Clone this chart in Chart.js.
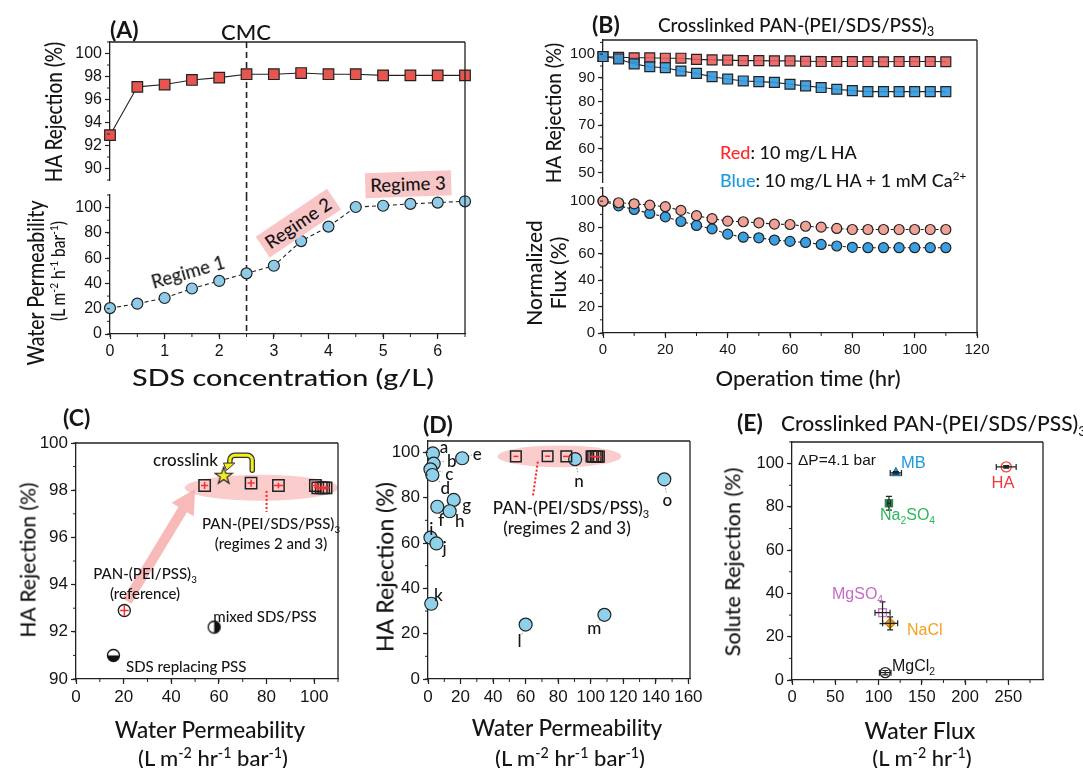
<!DOCTYPE html>
<html>
<head>
<meta charset="utf-8">
<script src="https://cdn.jsdelivr.net/npm/chart.js@4.4.1/dist/chart.umd.min.js"></script>
<style>
  body { margin: 0; background: #fff; }
  #wrap { position: relative; width: 1083px; height: 768px; overflow: hidden; font-family: Lato, 'Open Sans', sans-serif; color: #151515; }
  canvas { position: absolute; left: 0; top: 0; }
  .lbl { position: absolute; white-space: nowrap; line-height: 1; z-index: 5; font-weight: 500; }
  .arial { font-family: 'Liberation Sans', Arial, sans-serif; font-weight: 400; }
  sub, sup { font-size: 0.65em; line-height: 0; }
</style>
</head>
<body>
<div id="wrap"></div>
<script>
//-----------------------------------------------------
// Data
//-----------------------------------------------------

// (A) SDS concentration sweep
const sdsConc = [0, 0.5, 1, 1.5, 2, 2.5, 3, 3.5, 4, 4.5, 5, 5.5, 6, 6.5];
const haRejA = [92.9, 97.1, 97.3, 97.7, 97.9, 98.2, 98.2, 98.3, 98.2, 98.2, 98.1, 98.1, 98.1, 98.1];
const permA = [20.5, 24, 28.5, 36, 42, 48, 54, 73.5, 85, 100.5, 101.5, 103, 104, 105];
const cmcConc = 2.5;
const concTicks = [0, 1, 2, 3, 4, 5, 6];
const rejTicksA = [90, 92, 94, 96, 98, 100];
const permTicksA = [0, 20, 40, 60, 80, 100];

// (B) long term filtration
const timeB = [0, 5, 10, 15, 20, 25, 30, 35, 40, 45, 50, 55, 60, 65, 70, 75, 80, 85, 90, 95, 100, 105, 110];
const rejRedB = [99, 98.7, 98.5, 98.5, 98.3, 98.3, 97.8, 97.6, 97.5, 97.3, 97.3, 97.2, 97.2, 97, 96.9, 96.9, 96.9, 96.9, 96.8, 96.9, 96.9, 96.9, 96.8];
const rejBlueB = [99, 98, 95.9, 94.7, 94.3, 92.9, 91.9, 90.5, 89.5, 88.7, 88.4, 88.1, 87.3, 86.6, 85.9, 85.2, 84.6, 84.2, 84.2, 84.2, 84.2, 84.2, 84.2];
const fluxRedB = [100, 98.8, 98, 97, 95.8, 93, 89, 86.7, 84.9, 84.4, 83.6, 82.6, 82.3, 81, 80.3, 79.3, 78.5, 78.5, 78.5, 78.5, 78.5, 78.5, 78.5];
const fluxBlueB = [100, 96.5, 93.7, 90.7, 88.1, 84.6, 81.6, 79, 75, 72.7, 72.2, 70.5, 69.5, 68.7, 67.2, 66, 65, 64.7, 64.7, 64.7, 64.7, 64.7, 64.7];
const timeTicks = [0, 20, 40, 60, 80, 100, 120];
const rejTicksB = [50, 60, 70, 80, 90, 100];
const fluxTicksB = [0, 20, 40, 60, 80, 100];

// (C) regimes 2 and 3 = the SDS points from 3 g/L on
const regimePerm = permA.slice(6);
const regimeRej = haRejA.slice(6);
const regimePermErr = [1.5, 1.5, 2, 1.5, 1.5, 1.5, 1.5, 1.5];
const regimeRejErr = [0.15, 0.15, 0.12, 0.12, 0.1, 0.1, 0.1, 0.1];
const refPerm = [20.3], refRej = [92.9];
const xlinkPerm = [62], xlinkRej = [98.6];
const mixedPerm = [58], mixedRej = [92.2];
const sdsReplPerm = [15.7], sdsReplRej = [91.0];
const permTicksC = [0, 20, 40, 60, 80, 100];
const rejTicksC = [90, 92, 94, 96, 98, 100];

// (D) literature comparison
const litNames = ['a', 'b', 'c', 'd', 'e', 'f', 'g', 'h', 'i', 'j', 'k', 'l', 'm', 'n', 'o'];
const litPerm = [3, 3.5, 1.5, 2.7, 21, 5.7, 15.8, 13.3, 1.5, 5.2, 2, 60, 108.4, 90.4, 145.2];
const litRej = [99.5, 95, 92.5, 90, 97.4, 76, 79, 74, 62.4, 59.8, 33.2, 24, 28.3, 97, 88.1];
const permTicksD = [0, 20, 40, 60, 80, 100, 120, 140, 160];
const rejTicksD = [0, 20, 40, 60, 80, 100];

// (E) solute rejection
const soluteNames = ['HA', 'MB', 'Na2SO4', 'MgSO4', 'NaCl', 'MgCl2'];
const soluteFlux = [247.5, 120, 112, 104.6, 113.4, 107.7];
const soluteRej = [98.5, 95.7, 81.7, 31.1, 26.2, 3.4];
const soluteFluxErr = [11.5, 6.5, 2, 8.7, 8.7, 6.7];
const soluteRejErr = [0.6, 0.6, 3.2, 5, 3, 1];
const fluxTicksE = [0, 50, 100, 150, 200, 250];
const rejTicksE = [0, 20, 40, 60, 80, 100];

//-----------------------------------------------------
// Helpers
//-----------------------------------------------------
const wrap = document.getElementById('wrap');
const W = 1083, H = 768, YW = 48, XH = 30;
const INK = '#222';

function pts(xs, ys) { return xs.map((x, i) => ({ x, y: ys[i] })); }

function axis(min, max, ticks, size, extra) {
    return Object.assign({
        type: 'linear', min, max,
        afterBuildTicks: s => { s.ticks = ticks.map(v => ({ value: v })); },
        border: { color: INK, width: 1.3 },
        grid: { drawOnChartArea: false, color: INK, tickLength: 5, tickWidth: 1.2 },
        ticks: { color: '#151515', font: { family: "'Liberation Sans', Arial, sans-serif", size: size }, padding: 3, maxRotation: 0, autoSkip: false }
    }, extra || {});
}

const minorTicks = {
    id: 'minorTicks',
    afterDraw(chart, args, o) {
        const ctx = chart.ctx;
        ctx.save();
        ctx.strokeStyle = INK;
        ctx.lineWidth = 1;
        ['x', 'y'].forEach(id => {
            const step = o[id], s = chart.scales[id];
            if (!step || s.options.display === false) return;
            ctx.beginPath();
            const n0 = Math.ceil(s.min / step - 1e-9), n1 = Math.floor(s.max / step + 1e-9);
            for (let n = n0; n <= n1; n++) {
                const p = s.getPixelForValue(n * step);
                if (id === 'x') { ctx.moveTo(p, s.top); ctx.lineTo(p, s.top + 3); }
                else { ctx.moveTo(s.right, p); ctx.lineTo(s.right - 3, p); }
            }
            ctx.stroke();
        });
        ctx.restore();
    }
};

const frame = {
    id: 'frame',
    afterDraw(chart, args, o) {
        const { left, right, top, bottom } = chart.chartArea;
        const ctx = chart.ctx;
        ctx.save();
        ctx.strokeStyle = INK;
        ctx.lineWidth = 1.3;
        ctx.beginPath();
        if (o.top) { ctx.moveTo(left, top); ctx.lineTo(right, top); }
        if (o.right) { ctx.moveTo(right, top - (o.up || 0)); ctx.lineTo(right, bottom); }
        ctx.stroke();
        ctx.restore();
    }
};

const errorBars = {
    id: 'errorBars',
    afterDatasetsDraw(chart) {
        const ctx = chart.ctx, xs = chart.scales.x, ys = chart.scales.y;
        chart.data.datasets.forEach(ds => {
            if (!ds.errX && !ds.errY) return;
            ctx.save();
            ctx.strokeStyle = ds.errColor || INK;
            ctx.lineWidth = ds.errWidth || 1.2;
            const cap = ds.errCap === undefined ? 3 : ds.errCap;
            ds.data.forEach((p, i) => {
                const px = xs.getPixelForValue(p.x), py = ys.getPixelForValue(p.y);
                ctx.beginPath();
                if (ds.errX) {
                    const a = xs.getPixelForValue(p.x - ds.errX[i]), b = xs.getPixelForValue(p.x + ds.errX[i]);
                    ctx.moveTo(a, py); ctx.lineTo(b, py);
                    if (cap) { ctx.moveTo(a, py - cap); ctx.lineTo(a, py + cap); ctx.moveTo(b, py - cap); ctx.lineTo(b, py + cap); }
                }
                if (ds.errY) {
                    const a = ys.getPixelForValue(p.y - ds.errY[i]), b = ys.getPixelForValue(p.y + ds.errY[i]);
                    ctx.moveTo(px, a); ctx.lineTo(px, b);
                    if (cap) { ctx.moveTo(px - cap, a); ctx.lineTo(px + cap, a); ctx.moveTo(px - cap, b); ctx.lineTo(px + cap, b); }
                }
                ctx.stroke();
            });
            ctx.restore();
        });
    }
};

const vline = {
    id: 'vline',
    beforeDatasetsDraw(chart, args, o) {
        if (o.x === undefined) return;
        const ctx = chart.ctx, { top, bottom } = chart.chartArea;
        const x = chart.scales.x.getPixelForValue(o.x);
        ctx.save();
        ctx.strokeStyle = INK;
        ctx.lineWidth = 1.6;
        ctx.setLineDash([6, 4]);
        ctx.beginPath();
        ctx.moveTo(x, top);
        ctx.lineTo(x, bottom + (o.down || 0));
        ctx.stroke();
        ctx.restore();
    }
};

function ellipse(chart, cx, cy, rx, ry, color) {
    const xs = chart.scales.x, ys = chart.scales.y, ctx = chart.ctx;
    const x0 = xs.getPixelForValue(cx), y0 = ys.getPixelForValue(cy);
    ctx.save();
    ctx.fillStyle = color;
    ctx.beginPath();
    ctx.ellipse(x0, y0, Math.abs(xs.getPixelForValue(cx + rx) - x0), Math.abs(ys.getPixelForValue(cy + ry) - y0), 0, 0, 2 * Math.PI);
    ctx.fill();
    ctx.restore();
}

function dotted(chart, x1, y1, x2, y2, color, width) {
    const xs = chart.scales.x, ys = chart.scales.y, ctx = chart.ctx;
    ctx.save();
    ctx.strokeStyle = color;
    ctx.lineWidth = width;
    ctx.setLineDash([2, 2]);
    ctx.beginPath();
    ctx.moveTo(xs.getPixelForValue(x1), ys.getPixelForValue(y1));
    ctx.lineTo(xs.getPixelForValue(x2), ys.getPixelForValue(y2));
    ctx.stroke();
    ctx.restore();
}

function makeChart(area, xs, ys, datasets, pluginOpts, extra) {
    const cv = document.createElement('canvas');
    cv.width = W; cv.height = H;
    wrap.appendChild(cv);
    const xh = xs.display === false ? 0 : XH;
    xs.afterFit = s => { s.height = xh; };
    ys.afterFit = s => { s.width = YW; };
    return new Chart(cv, {
        type: 'scatter',
        data: { datasets },
        options: {
            responsive: false, animation: false, devicePixelRatio: 1, events: [],
            layout: { padding: { left: area.l - YW, top: area.t, right: W - area.r, bottom: H - area.b - xh } },
            scales: { x: xs, y: ys },
            plugins: Object.assign({ legend: { display: false }, tooltip: { enabled: false } }, pluginOpts)
        },
        plugins: [minorTicks, frame, vline, errorBars].concat(extra || [])
    });
}

// o: size, bold, color, bg, align, rot, sx (stretch along text), sy (stretch across text), cls
function txt(html, x, y, o) {
    o = o || {};
    const d = document.createElement('div');
    d.className = 'lbl' + (o.cls ? ' ' + o.cls : '');
    d.innerHTML = html;
    d.style.left = x + 'px';
    d.style.top = y + 'px';
    d.style.fontSize = (o.size || 16) + 'px';
    if (o.bold) d.style.fontWeight = 'bold';
    if (o.color) d.style.color = o.color;
    if (o.bg) { d.style.background = o.bg; d.style.padding = '3px 5px'; }
    const ax = o.align === 'left' ? '0' : o.align === 'right' ? '-100%' : '-50%';
    if (o.align === 'left') d.style.transformOrigin = '0 50%';
    if (o.align === 'right') d.style.transformOrigin = '100% 50%';
    d.style.transform = 'translate(' + ax + ', -50%)' + (o.rot ? ' rotate(' + o.rot + 'deg)' : '') +
        ' scale(' + (o.sx || 1) + ',' + (o.sy || 1) + ')';
    wrap.appendChild(d);
    return d;
}

function markerImg(size, draw) {
    const c = document.createElement('canvas');
    c.width = c.height = size;
    draw(c.getContext('2d'), size / 2);
    return c;
}
function halfCircle(a0, a1) {
    return markerImg(15, (g, c) => {
        g.beginPath(); g.arc(c, c, 6, 0, 2 * Math.PI); g.fillStyle = '#fff'; g.fill();
        g.beginPath(); g.moveTo(c, c); g.arc(c, c, 6, a0, a1); g.closePath(); g.fillStyle = '#111'; g.fill();
        g.beginPath(); g.arc(c, c, 6, 0, 2 * Math.PI); g.lineWidth = 1.3; g.strokeStyle = '#111'; g.stroke();
    });
}
const halfRight = halfCircle(-Math.PI / 2, Math.PI / 2);
const halfBottom = halfCircle(0, Math.PI);
const starImg = markerImg(20, (g, c) => {
    g.beginPath();
    for (let k = 0; k < 10; k++) {
        const r = k % 2 ? 3.6 : 9, a = -Math.PI / 2 + k * Math.PI / 5;
        g.lineTo(c + r * Math.cos(a), c + r * Math.sin(a));
    }
    g.closePath();
    g.fillStyle = '#f4e62a'; g.fill();
    g.lineWidth = 1.2; g.strokeStyle = '#222'; g.stroke();
});

//-----------------------------------------------------
// (A)
//-----------------------------------------------------
makeChart({ l: 110, t: 42, r: 465, b: 180 },
    axis(0, 6.5, [], 16, { display: false }),
    axis(89, 101, rejTicksA, 16),
    [{
        data: pts(sdsConc, haRejA), showLine: true, borderColor: INK, borderWidth: 1.1, clip: false,
        pointStyle: 'rect', pointRadius: 7.5, pointBackgroundColor: '#e6564f', pointBorderColor: INK, pointBorderWidth: 1.2
    }],
    { frame: { top: true, right: true }, minorTicks: { y: 1 }, vline: { x: cmcConc, down: 15 } });

makeChart({ l: 110, t: 195, r: 465, b: 334 },
    axis(0, 6.5, concTicks, 16),
    axis(0, 110, permTicksA, 16),
    [{
        data: pts(sdsConc, permA), showLine: true, borderColor: INK, borderWidth: 1.1, borderDash: [4, 3], clip: false,
        pointStyle: 'circle', pointRadius: 5.5, pointBackgroundColor: '#8ecbe8', pointBorderColor: INK, pointBorderWidth: 1.2
    }],
    { frame: { right: true, up: 15 }, minorTicks: { x: 0.5, y: 10 }, vline: { x: cmcConc } });

txt('(A)', 110, 29, { size: 23, bold: true, align: 'left' });
txt('CMC', 246, 32, { size: 22 });
txt('HA Rejection (%)', 53, 112, { size: 19, rot: -90, sy: 1.2 });
txt('Water Permeability', 35, 283, { size: 19.5, rot: -90, sy: 1.2 });
txt('(L m<sup>-2</sup> h<sup>-1</sup> bar<sup>-1</sup>)', 59, 271, { size: 15.5, rot: -90, sy: 1.2 });
txt('SDS concentration (g/L)', 283, 377, { size: 23, sx: 1.25 });
txt('Regime 1', 188, 272, { size: 18.5, rot: -16 });
txt('Regime 2', 298, 223, { size: 18.5, rot: -34, bg: '#f8c6c6' });
txt('Regime 3', 408, 184, { size: 18.5, rot: -2, bg: '#f8c6c6' });

//-----------------------------------------------------
// (B)
//-----------------------------------------------------
makeChart({ l: 603, t: 40, r: 977, b: 182 },
    axis(0, 120, [], 15, { display: false }),
    axis(46, 106, rejTicksB, 15),
    [{
        data: pts(timeB, rejBlueB), showLine: true, borderColor: INK, borderWidth: 1.1, clip: false,
        pointStyle: 'rect', pointRadius: 7, pointBackgroundColor: 'rgba(52,154,222,0.9)', pointBorderColor: INK, pointBorderWidth: 1.2
    }, {
        data: pts(timeB, rejRedB), showLine: true, borderColor: INK, borderWidth: 1.1, clip: false,
        pointStyle: 'rect', pointRadius: 7, pointBackgroundColor: 'rgba(232,92,92,0.88)', pointBorderColor: INK, pointBorderWidth: 1.2
    }],
    { frame: { top: true, right: true }, minorTicks: { y: 5 } });

makeChart({ l: 603, t: 188, r: 977, b: 333 },
    axis(0, 120, timeTicks, 15),
    axis(0, 110, fluxTicksB, 15),
    [{
        data: pts(timeB, fluxRedB), showLine: true, borderColor: INK, borderWidth: 1.1, borderDash: [3, 2], clip: false,
        pointStyle: 'circle', pointRadius: 5, pointBackgroundColor: '#f0a196', pointBorderColor: INK, pointBorderWidth: 1.2
    }, {
        data: pts(timeB, fluxBlueB), showLine: true, borderColor: INK, borderWidth: 1.1, borderDash: [3, 2], clip: false,
        pointStyle: 'circle', pointRadius: 5, pointBackgroundColor: '#3aa0e2', pointBorderColor: INK, pointBorderWidth: 1.2
    }],
    { frame: { right: true, up: 6 }, minorTicks: { x: 10, y: 10 } });

txt('(B)', 592, 24, { size: 23, bold: true, align: 'left' });
txt('Crosslinked PAN-(PEI/SDS/PSS)<sub>3</sub>', 658, 24, { size: 19, align: 'left' });
txt('HA Rejection (%)', 552, 113, { size: 19, rot: -90, sy: 1.15 });
txt('Normalized', 533, 273, { size: 21, rot: -90 });
txt('Flux (%)', 557, 273, { size: 21, rot: -90 });
txt('Operation time (hr)', 808, 378, { size: 22 });
txt('<span style="color:#ff2a2a">Red</span>: 10 mg/L HA', 720, 152, { size: 18, align: 'left' });
txt('<span style="color:#1a9be0">Blue</span>: 10 mg/L HA + 1 mM Ca<sup>2+</sup>', 720, 180, { size: 18, align: 'left' });

//-----------------------------------------------------
// (C)
//-----------------------------------------------------
const decorC = {
    id: 'decorC',
    beforeDatasetsDraw(chart) {
        const xs = chart.scales.x, ys = chart.scales.y, ctx = chart.ctx;
        ellipse(chart, 77.8, 98.1, 32.2, 0.55, 'rgba(246,170,170,0.6)');
        // fat pink arrow from the reference membrane to the SDS membranes
        const x1 = xs.getPixelForValue(21.5), y1 = ys.getPixelForValue(93.3);
        const x2 = xs.getPixelForValue(50), y2 = ys.getPixelForValue(98.05);
        const ang = Math.atan2(y2 - y1, x2 - x1), len = Math.hypot(x2 - x1, y2 - y1);
        ctx.save();
        ctx.translate(x1, y1); ctx.rotate(ang);
        ctx.fillStyle = 'rgba(246,168,168,0.8)';
        ctx.beginPath();
        ctx.moveTo(0, -5); ctx.lineTo(len - 24, -5); ctx.lineTo(len - 24, -13); ctx.lineTo(len, 0);
        ctx.lineTo(len - 24, 13); ctx.lineTo(len - 24, 5); ctx.lineTo(0, 5); ctx.closePath();
        ctx.fill();
        ctx.restore();
        dotted(chart, 80, 97.97, 80, 97.08, '#ff2020', 2);
    },
    afterDatasetsDraw(chart) {
        const xs = chart.scales.x, ys = chart.scales.y, ctx = chart.ctx;
        const xa = xs.getPixelForValue(74), xb = xs.getPixelForValue(64.6);
        const y0 = ys.getPixelForValue(98.85), yt = ys.getPixelForValue(99.48), yb = ys.getPixelForValue(99.15);
        const path = () => {
            ctx.beginPath();
            ctx.moveTo(xa, y0); ctx.arcTo(xa, yt, xb, yt, 5); ctx.arcTo(xb, yt, xb, yb, 5); ctx.lineTo(xb, yb);
        };
        ctx.save();
        ctx.lineCap = 'round';
        path(); ctx.strokeStyle = '#333'; ctx.lineWidth = 5.5; ctx.stroke();
        path(); ctx.strokeStyle = '#f5ee1a'; ctx.lineWidth = 3; ctx.stroke();
        ctx.fillStyle = '#f5ee1a'; ctx.strokeStyle = '#333'; ctx.lineWidth = 1;
        ctx.beginPath(); ctx.moveTo(xb - 6, yb); ctx.lineTo(xb + 5, yb); ctx.lineTo(xb - 3, yb + 7); ctx.closePath();
        ctx.fill(); ctx.stroke();
        ctx.restore();
    }
};

makeChart({ l: 76, t: 443, r: 338, b: 679 },
    axis(0, 110, permTicksC, 17),
    axis(90, 100, rejTicksC, 17),
    [{
        data: pts(regimePerm, regimeRej), clip: false, errX: regimePermErr, errY: regimeRejErr, errColor: '#ff2a2a', errCap: 0, errWidth: 1.5,
        pointStyle: 'rect', pointRadius: 8, pointBackgroundColor: 'rgba(0,0,0,0)', pointBorderColor: INK, pointBorderWidth: 1.5
    }, {
        data: pts(refPerm, refRej), clip: false, errX: [1.8], errY: [0.22], errColor: '#ff2a2a', errCap: 0, errWidth: 1.5,
        pointStyle: 'circle', pointRadius: 6, pointBackgroundColor: 'rgba(0,0,0,0)', pointBorderColor: INK, pointBorderWidth: 1.4
    }, {
        data: pts(xlinkPerm, xlinkRej), clip: false, pointStyle: starImg, pointRadius: 9
    }, {
        data: pts(mixedPerm, mixedRej), clip: false, pointStyle: halfRight, pointRadius: 7
    }, {
        data: pts(sdsReplPerm, sdsReplRej), clip: false, pointStyle: halfBottom, pointRadius: 7
    }],
    { frame: { top: true, right: true }, minorTicks: { x: 10, y: 1 } }, [decorC]);

txt('(C)', 63, 417, { size: 23, bold: true, align: 'left' });
txt('HA Rejection (%)', 27, 560, { size: 21, rot: -90 });
txt('Water Permeability', 210, 730, { size: 22.5 });
txt('(L m<sup>-2</sup> hr<sup>-1</sup> bar<sup>-1</sup>)', 213, 758, { size: 22 });
txt('crosslink', 218, 459, { size: 17, align: 'right' });
txt('PAN-(PEI/SDS/PSS)<sub>3</sub>', 271, 523, { size: 15 });
txt('(regimes 2 and 3)', 271, 543, { size: 15 });
txt('PAN-(PEI/PSS)<sub>3</sub>', 145, 573, { size: 15 });
txt('(reference)', 145, 593, { size: 15 });
txt('mixed SDS/PSS', 265, 616, { size: 15 });
txt('SDS replacing PSS', 126, 666, { size: 15, align: 'left' });

//-----------------------------------------------------
// (D)
//-----------------------------------------------------
const litLabelOffset = [[11, -7], [18, -4], [19, 4], [13, 12], [15, -5], [4, 12], [13, 4], [10, 9], [1, -10], [8, 4], [7, -10], [-6, 15], [-10, 12], [4, 21], [3, 20]];

const decorD = {
    id: 'decorD',
    beforeDatasetsDraw(chart) {
        const xs = chart.scales.x, ys = chart.scales.y, ctx = chart.ctx;
        ellipse(chart, 80.8, 98.2, 38, 4.8, 'rgba(246,170,170,0.6)');
        dotted(chart, 67.5, 95.9, 64.4, 80.4, '#ff2020', 2);
        // leader lines from points to their letters
        ctx.save();
        ctx.strokeStyle = '#777'; ctx.lineWidth = 0.8; ctx.setLineDash([1.5, 1.5]);
        litPerm.forEach((p, i) => {
            const px = xs.getPixelForValue(p), py = ys.getPixelForValue(litRej[i]);
            const [dx, dy] = litLabelOffset[i];
            ctx.beginPath(); ctx.moveTo(px, py); ctx.lineTo(px + dx * 0.65, py + dy * 0.65); ctx.stroke();
        });
        ctx.restore();
    }
};

const chartD = makeChart({ l: 428, t: 441, r: 690, b: 679 },
    axis(0, 161, permTicksD, 17),
    axis(0, 105, rejTicksD, 17),
    [{
        data: pts(regimePerm, regimeRej), clip: false, errX: regimePermErr, errColor: '#ff2a2a', errCap: 0, errWidth: 1.5,
        pointStyle: 'rect', pointRadius: 7.5, pointBackgroundColor: 'rgba(0,0,0,0)', pointBorderColor: INK, pointBorderWidth: 1.5
    }, {
        data: pts(litPerm, litRej), clip: false,
        pointStyle: 'circle', pointRadius: 6.5, pointBackgroundColor: '#8fd0ea', pointBorderColor: INK, pointBorderWidth: 1.2
    }],
    { frame: { top: true, right: true }, minorTicks: { x: 10, y: 10 } }, [decorD]);

litNames.forEach((n, i) => {
    const px = chartD.scales.x.getPixelForValue(litPerm[i]), py = chartD.scales.y.getPixelForValue(litRej[i]);
    txt(n, px + litLabelOffset[i][0], py + litLabelOffset[i][1], { size: 17 });
});
txt('(D)', 423, 424, { size: 23, bold: true, align: 'left' });
txt('HA Rejection (%)', 385, 567, { size: 23, rot: -90 });
txt('Water Permeability', 567, 728, { size: 22.5 });
txt('(L m<sup>-2</sup> hr<sup>-1</sup> bar<sup>-1</sup>)', 570, 758, { size: 22 });
txt('PAN-(PEI/SDS/PSS)<sub>3</sub>', 571, 507, { size: 17 });
txt('(regimes 2 and 3)', 567, 527, { size: 17 });

//-----------------------------------------------------
// (E)
//-----------------------------------------------------
const soluteStyle = [
    { pointStyle: 'circle', pointRadius: 5, pointBackgroundColor: 'rgba(0,0,0,0)', pointBorderColor: '#f04848' },
    { pointStyle: 'triangle', pointRadius: 5, pointBackgroundColor: '#36a9e1', pointBorderColor: '#1f7fb8' },
    { pointStyle: 'rect', pointRadius: 5, pointBackgroundColor: '#3cb36a', pointBorderColor: '#2a8a4e' },
    { pointStyle: 'rect', pointRadius: 5.5, pointBackgroundColor: 'rgba(0,0,0,0)', pointBorderColor: '#c77dc7' },
    { pointStyle: 'rectRot', pointRadius: 5, pointBackgroundColor: '#f5a623', pointBorderColor: '#d38610' },
    { pointStyle: 'circle', pointRadius: 5, pointBackgroundColor: 'rgba(0,0,0,0)', pointBorderColor: INK }
];

makeChart({ l: 792, t: 442, r: 1043, b: 680 },
    axis(0, 290, fluxTicksE, 16.5),
    axis(0, 110, rejTicksE, 16.5),
    soluteNames.map((n, i) => Object.assign({
        label: n, data: [{ x: soluteFlux[i], y: soluteRej[i] }], clip: false,
        errX: [soluteFluxErr[i]], errY: [soluteRejErr[i]], errColor: INK, errCap: 3, errWidth: 1.2,
        pointBorderWidth: 1.4
    }, soluteStyle[i])),
    { frame: { top: true, right: true }, minorTicks: { x: 25, y: 10 } });

txt('(E)', 737, 422, { size: 23, bold: true, align: 'left' });
txt('Crosslinked PAN-(PEI/SDS/PSS)<sub>3</sub>', 781, 422, { size: 21, align: 'left' });
txt('Solute Rejection (%)', 733, 562, { size: 21.5, rot: -90 });
txt('Water Flux', 920, 730, { size: 23 });
txt('(L m<sup>-2</sup> hr<sup>-1</sup>)', 922, 758, { size: 22 });
txt('ΔP=4.1 bar', 798, 460, { size: 15.5, align: 'left', cls: 'arial' });
txt('MB', 901, 462, { size: 16.5, align: 'left', color: '#1a9be0', cls: 'arial' });
txt('HA', 1003, 482, { size: 16.5, color: '#f03a3a', cls: 'arial' });
txt('Na<sub>2</sub>SO<sub>4</sub>', 880, 515, { size: 16, align: 'left', color: '#2db85a', cls: 'arial' });
txt('MgSO<sub>4</sub>', 832, 594, { size: 16, align: 'left', color: '#c46bc6', cls: 'arial' });
txt('NaCl', 907, 630, { size: 16, align: 'left', color: '#f5a020', cls: 'arial' });
txt('MgCl<sub>2</sub>', 892, 666, { size: 16, align: 'left', cls: 'arial' });
</script>
</body>
</html>
